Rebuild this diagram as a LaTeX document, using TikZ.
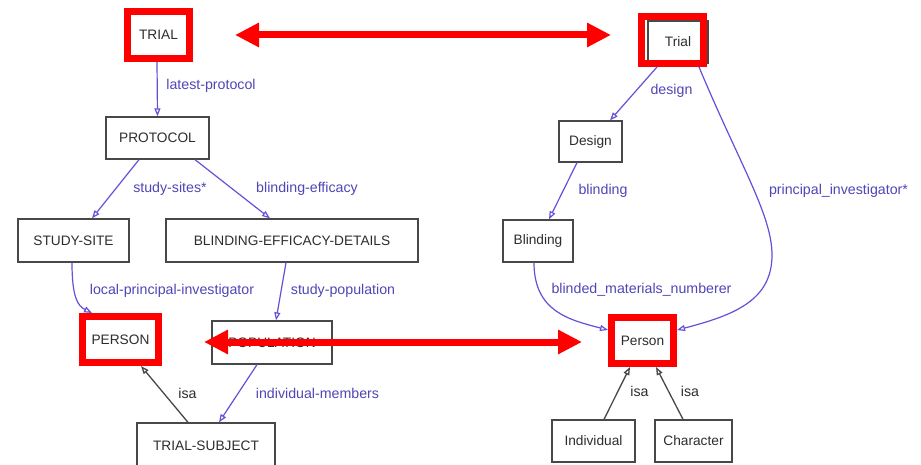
\documentclass[tikz,border=0pt]{standalone}
\usepackage{fontspec}
\setmainfont{Liberation Sans}
\usetikzlibrary{arrows.meta}
\definecolor{edgeblue}{RGB}{98,82,215}
\definecolor{labelblue}{RGB}{80,70,182}
\definecolor{boxgray}{RGB}{72,72,72}
\definecolor{txtgray}{RGB}{45,45,45}
\definecolor{markred}{RGB}{255,0,0}

\begin{document}
\begin{tikzpicture}[x=1pt,y=-1pt,
  box/.style={draw=boxgray, line width=1.3pt, fill=white, inner sep=0pt,
    text=txtgray, font=\fontsize{13.7}{16}\selectfont},
  hlbox/.style={draw=markred, line width=7pt, inner sep=0pt,
    text=txtgray, font=\fontsize{13.7}{16}\selectfont},
  rel/.style={draw=edgeblue, line width=1.2pt,
    -{Triangle[open,length=8pt,width=6pt]}},
  isarel/.style={draw=boxgray, line width=1.3pt,
    -{Triangle[open,length=8pt,width=6pt]}},
  lbl/.style={text=labelblue, font=\fontsize{14.2}{16}\selectfont, inner sep=0pt},
  isalbl/.style={lbl, text=txtgray},
  bigarrow/.style={draw=markred, line width=7pt,
    {Triangle[length=24pt,width=23pt]}-{Triangle[length=24pt,width=23pt]}}
]
\fill[white] (0,0) rectangle (921,465);
\useasboundingbox (0,0) rectangle (921,465);

% ---------- left model ----------
\node[hlbox, minimum width=62pt, minimum height=47pt] (trialL) at (158.5,35) {TRIAL};
\node[box, minimum width=103pt, minimum height=42pt] (protocol) at (157.5,138) {PROTOCOL};
\node[box, minimum width=111pt, minimum height=43pt] (site) at (73.5,240.5) {STUDY-SITE};
\node[box, minimum width=252pt, minimum height=43pt] (bed) at (292,240.5) {BLINDING-EFFICACY-DETAILS};
\node[box, minimum width=120pt, minimum height=43pt] (population) at (272,342.5) {POPULATION};
\node[box, minimum width=138pt, minimum height=46pt] (subject) at (206,446) {TRIAL-SUBJECT};
\node[hlbox, fill=white, minimum width=76pt, minimum height=46pt] (personL) at (120.5,339.5) {PERSON};

\draw[rel] ([xshift=-1.5pt]trialL.south) -- (protocol.north);
\draw[rel] ([xshift=-18.5pt]protocol.south) -- ([xshift=18.5pt]site.north);
\draw[rel] ([xshift=37.5pt]protocol.south) -- ([xshift=-22pt]bed.north);
\draw[rel] ([xshift=-1.5pt]site.south) .. controls (72,298) and (78,306) .. ([xshift=-28.5pt]personL.north);
\draw[rel] ([xshift=-6pt]bed.south) -- ([xshift=4pt]population.north);
\draw[rel] ([xshift=-15pt]population.south) -- ([xshift=13pt]subject.north);
\draw[isarel] ([xshift=-18pt]subject.north) -- ([xshift=20.5pt]personL.south);

\node[lbl] (l1) at (211,86) {latest-protocol};
\node[lbl] (l2) at (170,189) {study-sites*};
\node[lbl] (l3) at (307,189) {blinding-efficacy};
\node[lbl] (l4) at (172,291) {local-principal-investigator};
\node[lbl] (l5) at (343,291) {study-population};
\node[lbl] (l6) at (317.5,393) {individual-members};
\node[isalbl] (l7) at (187.5,393) {isa};

% ---------- right model ----------
\node[box, minimum width=60pt, minimum height=42pt] (trialR) at (678,42) {Trial};
\node[hlbox, minimum width=62pt, minimum height=47pt] (trialRmark) at (672.5,40) {};
\node[box, minimum width=63pt, minimum height=41pt] (design) at (590.5,141.5) {Design};
\node[box, minimum width=70pt, minimum height=42pt] (blinding) at (538,241) {Blinding};
\node[hlbox, fill=white, minimum width=62pt, minimum height=46pt] (personR) at (642.5,340.5) {Person};
\node[box, minimum width=83pt, minimum height=42pt] (individual) at (593.5,441) {Individual};
\node[box, minimum width=77pt, minimum height=42pt] (character) at (693.5,441) {Character};

\draw[rel] ([xshift=-15.5pt]trialRmark.south) -- ([xshift=19.5pt]design.north);
\draw[rel] ([xshift=-13.5pt]design.south) -- ([xshift=11pt]blinding.north);
\draw[rel] ([xshift=26.5pt]trialRmark.south) .. controls (740,165) and (772,215) .. (772,255)
  .. controls (772,300) and (735,315) .. ([yshift=-16pt]personR.north east);
\draw[rel] ([xshift=-4pt]blinding.south) .. controls (534,312) and (570,320) .. ([yshift=-16pt]personR.north west);
\draw[isarel] ([xshift=10.5pt]individual.north) -- ([xshift=-12.5pt]personR.south);
\draw[isarel] ([xshift=-10.5pt]character.north) -- ([xshift=13.5pt]personR.south);

\node[lbl] (r1) at (671.5,91) {design};
\node[lbl] (r2) at (603,191) {blinding};
\node[lbl] (r3) at (838.5,191) {principal\_investigator*};
\node[lbl] (r4) at (641.5,290) {blinded\_materials\_numberer};
\node[isalbl] (r5) at (639.5,391) {isa};
\node[isalbl] (r6) at (690,391) {isa};

% ---------- correspondence arrows ----------
\draw[bigarrow, shorten <=42pt, shorten >=27pt] (trialL.east) -- (trialL.east -| trialRmark.west);
\draw[bigarrow, shorten <=42pt, shorten >=26pt] ([yshift=-2.5pt]personL.east) -- ([yshift=-2.5pt]personL.east -| personR.west);
\end{tikzpicture}
\end{document}
